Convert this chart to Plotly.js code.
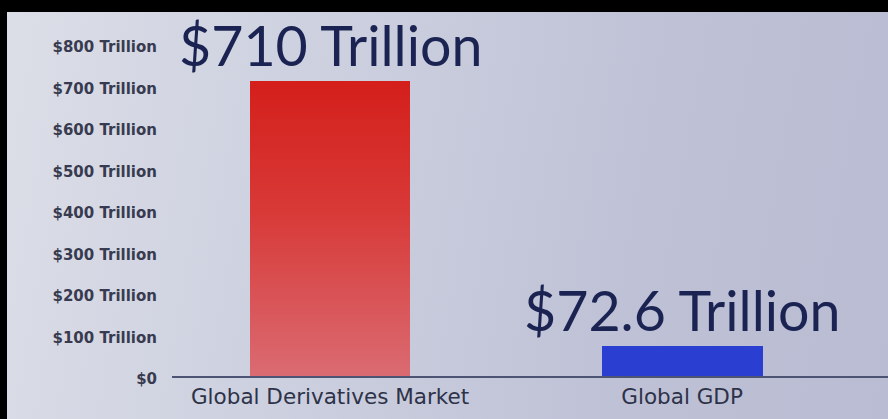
<!DOCTYPE html>
<html>
<head>
<meta charset="utf-8">
<script src="https://cdn.plot.ly/plotly-3.0.1.min.js"></script>
<style>
  html, body { margin: 0; padding: 0; background: #000; width: 888px; height: 419px; overflow: hidden; }
  #chart { position: absolute; left: 7px; top: 12px; width: 881px; height: 407px;
    background: linear-gradient(100deg, #dcdee7 0%, #ccd0df 35%, #bfc2d6 70%, #b9bcd2 100%); }
</style>
</head>
<body>
<div id="chart"></div>
<script>
const categories = ["Global Derivatives Market", "Global GDP"];
const values = [710, 72.6];
const valueLabels = ["$710 Trillion", "$72.6 Trillion"];
const tickValues = [0, 100, 200, 300, 400, 500, 600, 700, 800];
const tickLabels = ["$0", "$100 Trillion", "$200 Trillion", "$300 Trillion", "$400 Trillion",
                    "$500 Trillion", "$600 Trillion", "$700 Trillion", "$800 Trillion"];
const barColors = ["#d4231f", "#2a3ed2"];

const trace = {
  type: "bar",
  x: categories,
  y: values,
  width: 0.457,
  marker: { color: barColors, line: { width: 0 } },
  hoverinfo: "skip"
};

const annotations = categories.map((c, i) => ({
  x: c, y: values[i], xref: "x", yref: "y",
  text: valueLabels[i], showarrow: false,
  yanchor: "bottom", yshift: 1,
  font: { family: "Lato, 'Open Sans', sans-serif", size: 55.5, color: "#1b2352" }
}));

const layout = {
  width: 881, height: 407,
  margin: { l: 165, r: 0, t: 11, b: 43 },
  paper_bgcolor: "rgba(0,0,0,0)",
  plot_bgcolor: "rgba(0,0,0,0)",
  showlegend: false,
  bargap: 0,
  xaxis: {
    type: "category",
    range: [-0.449, 1.585],
    showline: true, linecolor: "#4d5473", linewidth: 2,
    showgrid: false, zeroline: false, ticks: "",
    ticklabelstandoff: 0,
    tickfont: { family: "'DejaVu Sans', sans-serif", size: 21.5, color: "#2e3249" }
  },
  yaxis: {
    range: [0, 850],
    showline: false, showgrid: false, zeroline: false, ticks: "",
    tickvals: tickValues, ticktext: tickLabels,
    ticklabelstandoff: 14,
    ticklabelshift: 3,
    tickfont: { family: "'DejaVu Sans', sans-serif", size: 15, color: "#383b50", weight: "bold" }
  },
  annotations: annotations
};

Plotly.newPlot("chart", [trace], layout, { staticPlot: true, displayModeBar: false }).then(gd => {
  const svg = gd.querySelector("svg.main-svg");
  const defs = svg.querySelector("defs");
  const ns = "http://www.w3.org/2000/svg";
  const grad = document.createElementNS(ns, "linearGradient");
  grad.setAttribute("id", "redGrad");
  grad.setAttribute("x1", "0"); grad.setAttribute("y1", "0");
  grad.setAttribute("x2", "0"); grad.setAttribute("y2", "1");
  [["0%", "#d41f1b"], ["45%", "#d83a38"], ["100%", "#da6b72"]].forEach(([o, c]) => {
    const s = document.createElementNS(ns, "stop");
    s.setAttribute("offset", o); s.setAttribute("stop-color", c);
    grad.appendChild(s);
  });
  defs.appendChild(grad);
  const paths = gd.querySelectorAll(".barlayer .point path");
  if (paths[0]) paths[0].style.fill = "url(#redGrad)";
});
</script>
</body>
</html>
